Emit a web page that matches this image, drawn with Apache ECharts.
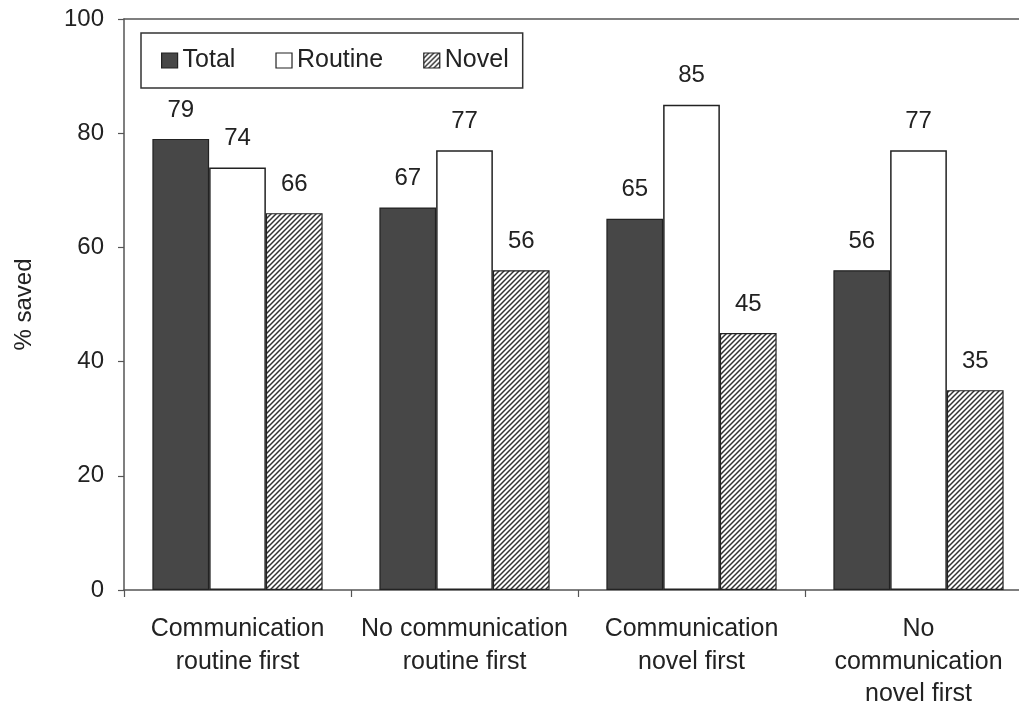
<!DOCTYPE html>
<html>
<head>
<meta charset="utf-8">
<script src="https://cdn.jsdelivr.net/npm/echarts@6/dist/echarts.min.js"></script>
<style>
html,body{margin:0;padding:0;background:#fff;overflow:hidden;}
#chart{width:1019px;height:701px;}
</style>
</head>
<body>
<div id="chart"></div>
<script>
const categories = ['Communication\nroutine first', 'No communication\nroutine first', 'Communication\nnovel first', 'No\ncommunication\nnovel first'];
const seriesNames = ['Total', 'Routine', 'Novel'];
const totalValues = [79, 67, 65, 56];
const routineValues = [74, 77, 85, 77];
const novelValues = [66, 56, 45, 35];
const yTicks = [0, 20, 40, 60, 80, 100];

function hatchPattern() {
  const s = 5;
  const c = document.createElement('canvas');
  c.width = s; c.height = s;
  const ctx = c.getContext('2d');
  ctx.fillStyle = '#ffffff';
  ctx.fillRect(0, 0, s, s);
  ctx.strokeStyle = '#333333';
  ctx.lineWidth = 1.5;
  ctx.beginPath();
  ctx.moveTo(0, s); ctx.lineTo(s, 0);
  ctx.moveTo(-1, 1); ctx.lineTo(1, -1);
  ctx.moveTo(s - 1, s + 1); ctx.lineTo(s + 1, s - 1);
  ctx.stroke();
  return { image: c, repeat: 'repeat' };
}

const font = '"Liberation Sans", Arial, sans-serif';
const textColor = '#222';
const labelStyle = { show: true, position: 'top', distance: 17, fontSize: 24, color: textColor, fontFamily: font };

const chart = echarts.init(document.getElementById('chart'), null, { renderer: 'canvas', width: 1019, height: 701 });
chart.setOption({
  animation: false,
  backgroundColor: '#fff',
  textStyle: { fontFamily: font },
  legend: {
    data: seriesNames,
    icon: 'rect',
    left: 141, top: 33,
    padding: [15, 14, 15, 20],
    itemGap: 40,
    itemWidth: 16, itemHeight: 15,
    borderColor: '#333', borderWidth: 1.5,
    backgroundColor: '#fff',
    textStyle: { fontSize: 25, color: textColor, fontFamily: font },
    itemStyle: { borderColor: '#222', borderWidth: 1.2 }
  },
  grid: { left: 124, top: 19, width: 908, height: 571, containLabel: false, outerBoundsMode: 'none' },
  xAxis: [{
    type: 'category',
    data: categories,
    axisLine: { show: true, lineStyle: { color: '#555', width: 1.5 } },
    axisTick: { show: true, inside: false, length: 7, lineStyle: { color: '#555', width: 1.2 } },
    axisLabel: { fontSize: 25, color: textColor, lineHeight: 32.5, margin: 23, fontFamily: font, interval: 0 },
    splitLine: { show: false }
  }, {
    type: 'category',
    data: categories,
    position: 'top',
    axisLine: { show: true, lineStyle: { color: '#555', width: 1.5 } },
    axisTick: { show: false },
    axisLabel: { show: false },
    splitLine: { show: false }
  }],
  yAxis: {
    type: 'value',
    min: yTicks[0], max: yTicks[yTicks.length - 1], interval: 20,
    name: '% saved',
    nameLocation: 'middle',
    nameGap: 88,
    nameRotate: 90,
    nameTextStyle: { fontSize: 24, color: textColor, fontFamily: font },
    axisLine: { show: true, lineStyle: { color: '#555', width: 1.5 } },
    axisTick: { show: true, inside: false, length: 6, lineStyle: { color: '#555', width: 1.2 } },
    axisLabel: { fontSize: 24, color: textColor, margin: 20, fontFamily: font },
    splitLine: { show: false }
  },
  series: [{
    name: seriesNames[0], type: 'bar', data: totalValues,
    barGap: '0%', barCategoryGap: '25%',
    itemStyle: { color: '#474747', borderColor: '#222', borderWidth: 1.2 },
    label: labelStyle
  }, {
    name: seriesNames[1], type: 'bar', data: routineValues,
    barGap: '0%', barCategoryGap: '25%',
    itemStyle: { color: '#ffffff', borderColor: '#222', borderWidth: 1.5 },
    label: labelStyle
  }, {
    name: seriesNames[2], type: 'bar', data: novelValues,
    barGap: '0%', barCategoryGap: '25%',
    itemStyle: { color: hatchPattern(), borderColor: '#222', borderWidth: 1.2 },
    label: labelStyle
  }]
});
</script>
</body>
</html>
